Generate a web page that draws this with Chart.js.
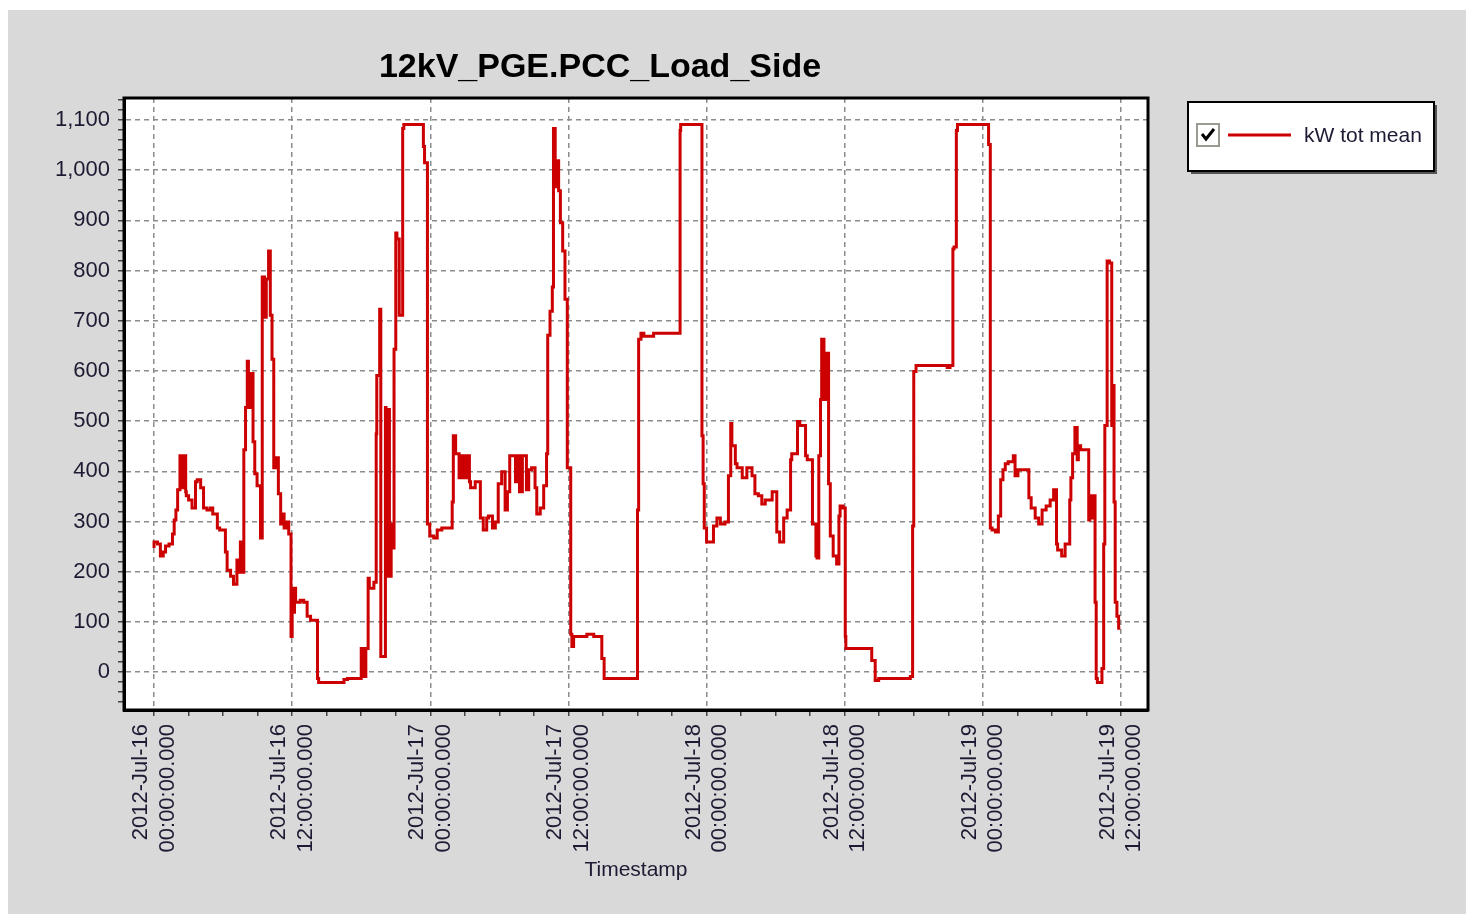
<!DOCTYPE html>
<html>
<head>
<meta charset="utf-8">
<title>12kV_PGE.PCC_Load_Side</title>
<script src="https://cdn.jsdelivr.net/npm/chart.js@4.4.0/dist/chart.umd.min.js"></script>
<style>
  html, body { margin: 0; padding: 0; background: #ffffff; }
  #wrap { position: absolute; left: 8px; top: 10px; width: 1458px; height: 904px; background: #d9d9d9; }
</style>
</head>
<body>
<div id="wrap"><canvas id="load-chart" width="1458" height="904"></canvas></div>
<script>
// hours since 2012-Jul-16 00:00
var hours = [
  0.0, 0.3, 0.55, 0.8, 1.0, 1.3, 1.6, 1.75, 1.9, 2.05, 2.25, 2.4, 2.55, 2.75, 2.8, 3.0, 3.3, 3.6, 3.75, 4.05,
  4.3, 4.6, 4.9, 5.1, 5.5, 5.7, 6.2, 6.35, 6.65, 6.9, 7.2, 7.35, 7.5, 7.65, 7.8, 7.95, 8.1, 8.2, 8.4, 8.6,
  8.75, 8.95, 9.25, 9.4, 9.6, 9.75, 9.95, 10.1, 10.25, 10.4, 10.55, 10.8, 11.0, 11.1, 11.3, 11.55, 11.7, 11.9, 12.0, 12.1,
  12.2, 12.3, 12.7, 13.0, 13.3, 13.6, 14.2, 14.3, 14.6, 16.5, 16.8, 18.0, 18.15, 18.4, 18.6, 18.7, 19.1, 19.3, 19.35, 19.6,
  19.7, 19.9, 20.1, 20.15, 20.3, 20.45, 20.6, 20.75, 20.85, 21.0, 21.1, 21.3, 21.45, 21.6, 21.7, 21.9, 23.4, 23.5, 23.75, 23.95,
  24.3, 24.6, 25.0, 25.9, 26.0, 26.2, 26.5, 26.75, 27.0, 27.2, 27.4, 27.5, 27.9, 28.35, 28.6, 28.9, 29.05, 29.4, 29.65, 29.9,
  30.2, 30.5, 30.7, 30.9, 31.4, 31.55, 31.75, 32.0, 32.35, 32.55, 32.8, 33.1, 33.25, 33.55, 33.85, 34.1, 34.2, 34.4, 34.6, 34.7,
  34.85, 35.0, 35.15, 35.3, 35.5, 35.7, 35.9, 36.2, 36.3, 36.45, 36.75, 37.6, 38.2, 38.9, 39.1, 39.4, 42.0, 42.1, 42.3, 42.55,
  43.4, 43.7, 45.7, 45.75, 46.0, 47.6, 47.7, 47.8, 48.0, 48.6, 48.9, 49.2, 49.6, 49.9, 50.1, 50.2, 50.5, 50.65, 51.1, 51.5,
  51.95, 52.2, 52.5, 52.8, 53.1, 53.7, 54.1, 54.35, 54.7, 55.0, 55.3, 55.4, 55.9, 56.1, 56.6, 56.75, 57.2, 57.5, 57.6, 57.75,
  57.9, 58.0, 58.2, 58.45, 58.6, 58.75, 59.0, 59.3, 59.5, 59.6, 59.85, 60.05, 60.1, 60.45, 61.35, 62.35, 62.65, 62.95, 65.7, 65.9,
  66.0, 66.2, 66.4, 68.9, 69.15, 69.4, 69.5, 69.7, 69.8, 70.0, 72.5, 72.65, 72.8, 73.1, 73.35, 73.55, 73.75, 73.95, 74.2, 74.65,
  74.8, 75.05, 75.25, 76.0, 76.2, 76.55, 76.85, 77.15, 77.5, 77.85, 78.15, 78.4, 78.5, 78.85, 79.15, 79.55, 79.65, 79.8, 80.0, 80.2,
  80.3, 80.5, 80.75, 81.2, 81.3, 81.5, 81.6, 81.75, 81.85, 81.95, 82.35, 82.5, 82.6, 82.8, 83.0, 83.2, 83.3, 83.4, 83.5, 83.65,
  83.8, 83.95
];

// kW tot mean
var kwTotMean = [
  247, 259, 255, 231, 239, 251, 255, 275, 303, 323, 363, 431, 367, 431, 359, 351, 343, 327, 379, 383,
  367, 327, 323, 327, 315, 287, 283, 239, 203, 191, 175, 223, 199, 259, 199, 443, 527, 619, 527, 595,
  459, 395, 371, 267, 787, 707, 783, 839, 711, 623, 407, 427, 355, 295, 315, 287, 299, 275, 71, 167,
  119, 167, 139, 143, 139, 111, 103, -13, -21, -21, -15, -13, 47, -9, 47, 187, 167, 179, 475, 591,
  723, 31, 31, 527, 191, 523, 191, 295, 247, 643, 875, 863, 711, 711, 1083, 1091, 1091, 1047, 1015, 295,
  271, 267, 283, 287, 339, 471, 435, 387, 431, 387, 431, 379, 367, 379, 307, 283, 307, 311, 287, 299,
  375, 399, 323, 359, 431, 379, 431, 359, 431, 363, 403, 407, 367, 315, 327, 371, 435, 671, 719, 767,
  1083, 967, 1019, 959, 895, 839, 743, 407, 75, 51, 71, 71, 75, 71, 27, -13, -13, 323, 663, 675,
  669, 675, 675, 1079, 1091, 1091, 471, 375, 287, 259, 291, 307, 295, 299, 391, 495, 451, 415, 407, 387,
  407, 391, 355, 351, 335, 343, 359, 279, 259, 307, 323, 423, 435, 499, 491, 431, 423, 295, 231, 227,
  431, 543, 663, 543, 635, 375, 271, 231, 215, 311, 331, 327, 71, 47, 47, 47, 23, -17, -13, -9,
  291, 599, 611, 611, 607, 611, 843, 847, 1079, 1091, 1091, 1051, 287, 283, 279, 311, 383, 403, 415, 419,
  431, 391, 403, 403, 347, 327, 307, 295, 323, 331, 343, 363, 255, 243, 231, 255, 343, 387, 435, 487,
  423, 451, 443, 443, 303, 351, 307, 351, 139, -13, -21, 7, 255, 491, 819, 815, 491, 571, 339, 139,
  111, 87
];

var months = ['Jan', 'Feb', 'Mar', 'Apr', 'May', 'Jun', 'Jul', 'Aug', 'Sep', 'Oct', 'Nov', 'Dec'];
var startDay = 16; // 2012-Jul-16

function pad2(n) { return (n < 10 ? '0' : '') + n; }

function timeLabel(h) {
  var day = startDay + Math.floor(h / 24);
  var hr = h % 24;
  return ['2012-' + months[6] + '-' + day, pad2(hr) + ':00:00.000'];
}

var points = hours.map(function (h, i) { return { x: h, y: kwTotMean[i] }; });

var tickFont = { family: '"Liberation Sans", Arial, sans-serif', size: 22 };
var textColor = '#1e1a33';

// white plot area, frame, title and the boxed legend with a checkbox
var chartDecor = {
  id: 'chartDecor',
  beforeDraw: function (chart) {
    var ctx = chart.ctx, a = chart.chartArea;
    ctx.save();
    ctx.fillStyle = '#ffffff';
    ctx.fillRect(a.left, a.top, a.right - a.left, a.bottom - a.top);
    ctx.restore();
  },
  afterDatasetsDraw: function (chart) {
    var ctx = chart.ctx, a = chart.chartArea;
    ctx.save();
    ctx.strokeStyle = '#000';
    ctx.lineWidth = 3;
    ctx.strokeRect(a.left, a.top, a.right - a.left, a.bottom - a.top);
    ctx.restore();
  },
  afterDraw: function (chart) {
    var ctx = chart.ctx;
    var ds = chart.data.datasets[0];
    ctx.save();
    // title
    ctx.fillStyle = '#000';
    ctx.font = 'bold 34px "Liberation Sans", Arial, sans-serif';
    ctx.textAlign = 'center';
    ctx.textBaseline = 'middle';
    ctx.fillText('12kV_PGE.PCC_Load_Side', 592, 58);

    // legend box
    var bx = 1180, by = 92, bw = 246, bh = 69;
    ctx.fillStyle = '#555';
    ctx.fillRect(bx + 3, by + 3, bw, bh);
    ctx.fillStyle = '#fff';
    ctx.fillRect(bx, by, bw, bh);
    ctx.strokeStyle = '#000';
    ctx.lineWidth = 2;
    ctx.strokeRect(bx, by, bw, bh);

    // checkbox
    ctx.fillStyle = '#fff';
    ctx.fillRect(1189, 114, 22, 22);
    ctx.strokeStyle = '#9a9a90';
    ctx.lineWidth = 2;
    ctx.strokeRect(1189, 114, 22, 22);
    ctx.strokeStyle = '#000';
    ctx.lineWidth = 3;
    ctx.beginPath();
    ctx.moveTo(1194, 124);
    ctx.lineTo(1198, 129);
    ctx.lineTo(1206, 119);
    ctx.stroke();

    // line sample + label
    ctx.strokeStyle = ds.borderColor;
    ctx.lineWidth = 3;
    ctx.beginPath();
    ctx.moveTo(1220, 125);
    ctx.lineTo(1283, 125);
    ctx.stroke();
    ctx.fillStyle = textColor;
    ctx.font = '21px "Liberation Sans", Arial, sans-serif';
    ctx.textAlign = 'left';
    ctx.textBaseline = 'middle';
    ctx.fillText(ds.label, 1296, 126);
    ctx.restore();
  }
};

var chartContainer = document.getElementById('load-chart');

var myLoadChart = new Chart(chartContainer, {
  type: 'line',
  data: {
    datasets: [{
      label: 'kW tot mean',
      data: points,
      borderColor: '#cc0000',
      borderWidth: 3,
      pointRadius: 0,
      stepped: 'after',
      fill: false
    }]
  },
  options: {
    responsive: false,
    animation: false,
    layout: { padding: { left: 0, top: 88, right: 318, bottom: 0 } },
    plugins: {
      legend: { display: false },
      title: { display: false },
      tooltip: { enabled: false }
    },
    scales: {
      x: {
        type: 'linear',
        min: -2.61,
        max: 86.35,
        afterFit: function (scale) { scale.height = 204; },
        afterBuildTicks: function (scale) {
          var t = [];
          for (var h = 0; h <= 84; h += 3) t.push({ value: h });
          scale.ticks = t;
        },
        grid: {
          color: function (c) { return c.tick && c.tick.value % 12 === 0 ? '#8c8c8c' : 'rgba(0,0,0,0)'; },
          lineWidth: 1.5,
          tickColor: '#444',
          tickLength: 6,
          tickWidth: 1.5
        },
        border: { display: true, color: '#000', width: 3, dash: [5, 4] },
        ticks: {
          autoSkip: false,
          maxRotation: 90,
          minRotation: 90,
          padding: 8,
          labelOffset: -13,
          color: textColor,
          font: tickFont,
          callback: function (v) { return v % 12 === 0 ? timeLabel(v) : ''; }
        },
        title: {
          display: true,
          text: 'Timestamp',
          color: textColor,
          font: { family: '"Liberation Sans", Arial, sans-serif', size: 21 },
          padding: { top: 0, bottom: 31 }
        }
      },
      y: {
        min: -75.7,
        max: 1143.8,
        afterFit: function (scale) { scale.width = 116; },
        afterBuildTicks: function (scale) {
          var t = [];
          for (var v = -60; v <= 1140; v += 20) t.push({ value: v });
          scale.ticks = t;
        },
        grid: {
          color: function (c) { return c.tick && c.tick.value % 100 === 0 ? '#8c8c8c' : 'rgba(0,0,0,0)'; },
          lineWidth: 1.5,
          tickColor: '#444',
          tickLength: 6,
          tickWidth: 1.5
        },
        border: { display: true, color: '#000', width: 3, dash: [5, 4] },
        ticks: {
          autoSkip: false,
          padding: 8,
          color: textColor,
          font: tickFont,
          callback: function (v) {
            return (v % 100 === 0 && v >= 0 && v <= 1100) ? v.toLocaleString('en-US') : '';
          }
        }
      }
    }
  },
  plugins: [chartDecor]
});
</script>
</body>
</html>
